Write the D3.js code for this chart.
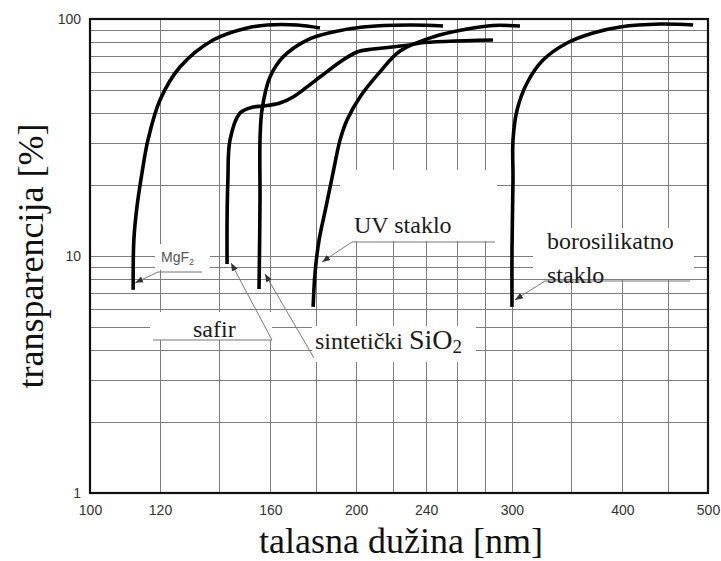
<!DOCTYPE html>
<html><head><meta charset="utf-8">
<script src="https://cdn.jsdelivr.net/npm/d3@7"></script>
<style>body{margin:0;background:#fff}svg{display:block}</style>
</head><body><svg id="c" width="721" height="561"></svg>
<script>
// ---- data: [wavelength nm, transparency %] ----
const mgf2 = [[111.9,7.2],[112.1,11.7],[113,16.1],[114.5,22.4],[116.3,30.9],[120,45.5],[126.4,62.7],[137.8,81.5],[150.5,91.6],[158.6,94.3],[171.5,94.3],[182,91.6]];
const safir = [[142.9,9.25],[142.9,14.2],[143.2,20.9],[144.0,30.9],[147.8,40.1],[152.9,42.5],[156.9,42.9],[164,44.2],[169.7,46.9],[176,51.7],[182,56.9],[191.8,65.9],[200.5,72.6],[209,74.7],[230.1,77.7],[236.2,79.2],[285.6,81.5]];
const sio2 = [[155.3,7.26],[155.7,17.2],[155.7,30.9],[156.5,41.3],[159.8,56.9],[165.3,69.1],[176,81.5],[188.3,88.1],[203.6,92.5],[230.1,94.3],[250.8,93.4]];
const uvStaklo = [[178.8,6.1],[179.7,8.5],[181.6,11.7],[184.9,16.1],[188.3,22.4],[191.8,30.9],[195.3,37.5],[202,46.9],[212.8,59.8],[224.2,73.3],[244.3,84],[267,90.7],[285.6,93.9],[306.4,93.4]];
const boroStaklo = [[300.1,6.1],[300.1,10.6],[300.9,20.9],[300.9,30.9],[304.1,41.3],[312.1,53.7],[325.4,67.1],[346.4,79.2],[370.7,87.3],[397.7,92.5],[441.4,95.2],[481,94.3]];
const seriesNames = ["MgF2","safir","sintetički SiO2","UV staklo","borosilikatno staklo"];
const seriesData = [mgf2, safir, sio2, uvStaklo, boroStaklo];

const xTickValues = [100,120,160,200,240,300,400,500];
const xGridValues = [120,140,160,180,200,220,240,260,280,300,350,400,450];
const yTickValues = [1,10,100];
const yGridValues = [2,3,4,5,6,7,8,9,20,30,40,50,60,70,80,90];

// ---- layout ----
const svg = d3.select("#c");
const L=90, R=708, T=19, B=493;
const x = d3.scaleLog().domain([100,500]).range([L,R]);
const y = d3.scaleLog().domain([1,100]).range([B,T]);

const defs = svg.append("defs");
defs.append("marker").attr("id","arr").attr("viewBox","0 0 10 10")
  .attr("refX",10).attr("refY",5).attr("markerWidth",8).attr("markerHeight",8)
  .attr("markerUnits","userSpaceOnUse").attr("orient","auto")
  .append("path").attr("d","M0,1 L10,5 L0,9 Z").attr("fill","#333");

// grid
const grid = svg.append("g").attr("stroke","#7d7d7d").attr("stroke-width",1);
grid.selectAll(".vx").data(xGridValues).join("line")
  .attr("x1",d=>Math.round(x(d))+0.5).attr("x2",d=>Math.round(x(d))+0.5).attr("y1",T).attr("y2",B);
grid.selectAll(".hy").data(yGridValues.concat([10])).join("line")
  .attr("y1",d=>Math.round(y(d))+0.5).attr("y2",d=>Math.round(y(d))+0.5).attr("x1",L).attr("x2",R);

// label boxes (white backgrounds hiding grid)
const boxes = [[155,244,210,270],[150,312,272,340],[312,326,476,362],[340,170,497,241],[533,228,694,279]];
svg.append("g").selectAll("rect").data(boxes).join("rect")
  .attr("x",d=>d[0]).attr("y",d=>d[1]).attr("width",d=>d[2]-d[0]).attr("height",d=>d[3]-d[1])
  .attr("fill","#fff");

// curves
const line = d3.line().x(d=>x(d[0])).y(d=>y(d[1])).curve(d3.curveCatmullRom.alpha(0.5));
svg.append("g").selectAll("path").data(seriesData).join("path")
  .attr("d",line).attr("fill","none").attr("stroke","#000").attr("stroke-width",3.6)
  .attr("stroke-linecap","butt").attr("stroke-linejoin","round");

// frame
svg.append("rect").attr("x",L).attr("y",T).attr("width",R-L).attr("height",B-T)
  .attr("fill","none").attr("stroke","#111").attr("stroke-width",2.2);

// axes
const xAxis = svg.append("g").attr("transform",`translate(0,${B})`)
  .call(d3.axisBottom(x).tickValues(xTickValues).tickFormat(d3.format("d")).tickSize(0).tickPadding(12));
const yAxis = svg.append("g").attr("transform",`translate(${L},0)`)
  .call(d3.axisLeft(y).tickValues(yTickValues).tickFormat(d3.format("d")).tickSize(0).tickPadding(9));
[xAxis,yAxis].forEach(a=>{
  a.select(".domain").remove();
  a.selectAll("text").attr("font-family","'Liberation Sans',Arial,sans-serif").attr("font-size",14).attr("fill","#333");
});

// axis titles
svg.append("text").attr("transform","translate(43,256) rotate(-90)").attr("text-anchor","middle")
  .attr("font-family","'Liberation Serif','Times New Roman',serif").attr("font-size",36).attr("fill","#111")
  .text("transparencija [%]");
svg.append("text").attr("x",401).attr("y",553).attr("text-anchor","middle")
  .attr("font-family","'Liberation Serif','Times New Roman',serif").attr("font-size",36).attr("fill","#111")
  .text("talasna dužina [nm]");

// leader lines with arrows to curve starts
const tipOffsets = [[2,-7],[4,-1],[6,-15],[9,-45],[3,-7]];
const leaderPts = [[[202,272],[158,272]],[[153,340],[272,340]],[[314,358]],[[495,242],[352,242]],[[690,281],[545,281]]];
const lead = svg.append("g");
seriesData.forEach((s,i)=>{
  const p0 = s[0];
  const tip = [x(p0[0])+tipOffsets[i][0], y(p0[1])+tipOffsets[i][1]];
  const pts = leaderPts[i].concat([tip]);
  lead.append("path").attr("d",d3.line()(pts)).attr("fill","none")
    .attr("stroke","#777").attr("stroke-width",1).attr("marker-end","url(#arr)");
});

// labels
const serif = "'Liberation Serif','Times New Roman',serif";
const mg = svg.append("text").attr("x",161).attr("y",262).attr("font-family","'Liberation Sans',Arial,sans-serif")
  .attr("font-size",14).attr("fill","#555");
mg.append("tspan").text("MgF");
mg.append("tspan").attr("font-size",9).attr("dy",3).text("2");

svg.append("text").attr("x",193).attr("y",337).attr("font-family",serif).attr("font-size",24).attr("fill","#1a1a1a").text("safir");
const si = svg.append("text").attr("x",315).attr("y",349).attr("font-family",serif).attr("font-size",24).attr("fill","#1a1a1a");
si.append("tspan").text("sintetički ");
si.append("tspan").attr("font-size",28).text("SiO");
si.append("tspan").attr("font-size",19).attr("dy",4).text("2");
svg.append("text").attr("x",354).attr("y",233).attr("font-family",serif).attr("font-size",24).attr("fill","#1a1a1a").text("UV staklo");
svg.append("text").attr("x",547).attr("y",249).attr("font-family",serif).attr("font-size",24).attr("fill","#1a1a1a").text("borosilikatno");
svg.append("text").attr("x",547).attr("y",283).attr("font-family",serif).attr("font-size",24).attr("fill","#1a1a1a").text("staklo");
</script></body></html>
